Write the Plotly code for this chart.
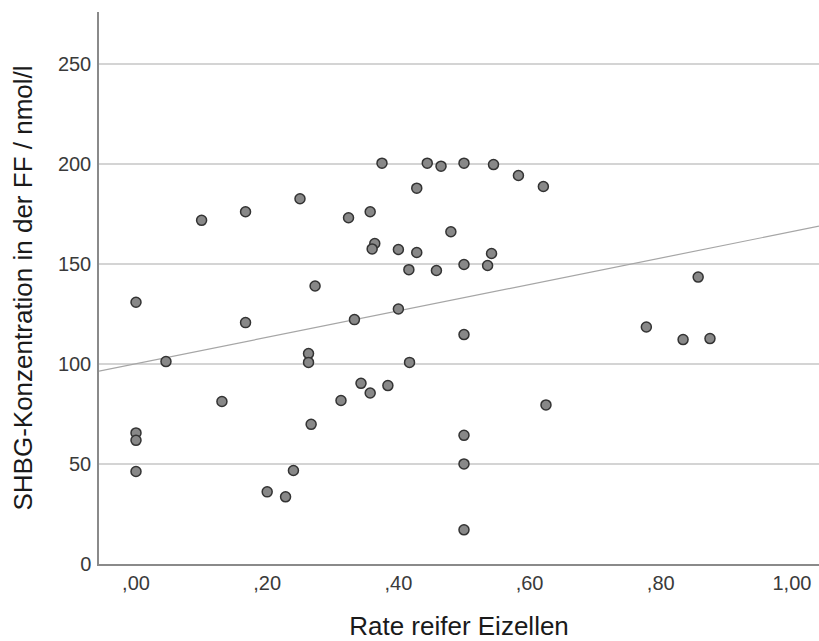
import numpy as np
import plotly.graph_objects as go

# Data
rate = [0.100, 0.167, 0.250, 0.324, 0.000, 0.273, 0.167, 0.375, 0.444, 0.465,
        0.500, 0.545, 0.583, 0.621, 0.428, 0.357, 0.480, 0.364, 0.360, 0.400,
        0.428, 0.542, 0.416, 0.458, 0.500, 0.536, 0.400, 0.333, 0.0457, 0.263,
        0.263, 0.131, 0.3125, 0.267, 0.000, 0.000, 0.000, 0.240, 0.200, 0.228,
        0.500, 0.417, 0.343, 0.357, 0.384, 0.625, 0.500, 0.500, 0.500, 0.857,
        0.778, 0.834, 0.875]
shbg = [172.0, 176.3, 182.8, 173.3, 131.0, 139.1, 120.8, 200.6, 200.6, 199.1,
        200.6, 199.9, 194.4, 188.9, 188.1, 176.3, 166.3, 160.4, 157.7, 157.4,
        155.9, 155.4, 147.3, 146.9, 149.9, 149.4, 127.6, 122.3, 101.3, 105.3,
        100.9, 81.3, 81.8, 69.9, 65.6, 61.9, 46.3, 46.8, 36.1, 33.6,
        114.8, 100.9, 90.4, 85.6, 89.3, 79.6, 64.4, 50.1, 17.1, 143.6,
        118.6, 112.3, 112.8]

x_tickvals = [0.0, 0.2, 0.4, 0.6, 0.8, 1.0]
x_ticktext = [",00", ",20", ",40", ",60", ",80", "1,00"]
y_tickvals = [0, 50, 100, 150, 200, 250]
y_ticktext = ["0", "50", "100", "150", "200", "250"]

x_range = [-0.0564, 1.0412]
y_range = [0, 276.25]

# Linear fit line (least squares on the data)
slope, intercept = np.polyfit(rate, shbg, 1)
fit_x = np.array(x_range)
fit_y = intercept + slope * fit_x

FONT = "Liberation Sans, Arial, sans-serif"

fig = go.Figure()
fig.add_trace(go.Scatter(
    x=fit_x, y=fit_y, mode="lines",
    line=dict(color="#a6a6a6", width=1.2),
    hoverinfo="skip", showlegend=False,
))
fig.add_trace(go.Scatter(
    x=rate, y=shbg, mode="markers",
    marker=dict(size=10, color="#888888", line=dict(color="#333333", width=1.5)),
    showlegend=False,
))

fig.update_layout(
    width=819, height=641,
    margin=dict(l=99, r=0, t=12, b=77, pad=0),
    plot_bgcolor="white", paper_bgcolor="white",
    font=dict(family=FONT, color="#333333"),
    xaxis=dict(
        range=x_range, tickvals=x_tickvals, ticktext=x_ticktext,
        showgrid=False, zeroline=False,
        showline=True, linecolor="#8a8a8a", linewidth=1.5,
        ticks="", ticklabelstandoff=0,
        tickfont=dict(size=20, color="#3a3a3a", family=FONT),
        title=dict(text="Rate reifer Eizellen", standoff=28,
                   font=dict(size=26, color="#1a1a1a", family=FONT)),
    ),
    yaxis=dict(
        range=y_range, tickvals=y_tickvals, ticktext=y_ticktext,
        showgrid=True, gridcolor="#d4d4d4", gridwidth=1.5,
        zeroline=False,
        showline=True, linecolor="#8a8a8a", linewidth=1.5,
        ticks="", ticklabelstandoff=2,
        tickfont=dict(size=20, color="#3a3a3a", family=FONT),
        title=dict(text="SHBG-Konzentration in der FF / nmol/l", standoff=18,
                   font=dict(size=26, color="#1a1a1a", family=FONT)),
    ),
)

fig.write_html("out.html")
